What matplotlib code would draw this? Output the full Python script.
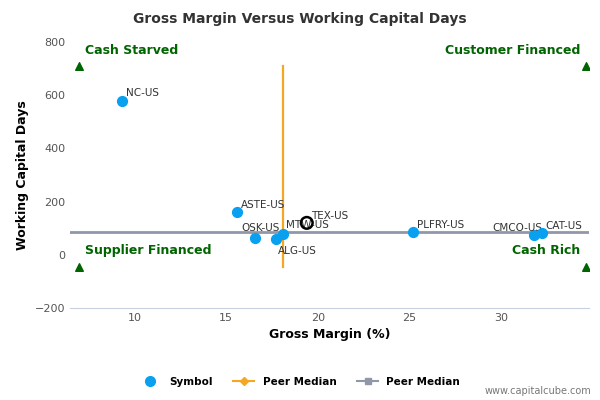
import matplotlib.pyplot as plt
from matplotlib.lines import Line2D

names = ["NC-US", "ASTE-US", "OSK-US", "ALG-US", "MTW-US", "TEX-US", "PLFRY-US", "CMCO-US", "CAT-US"]
margin = [9.3, 15.6, 16.6, 17.7, 18.1, 19.4, 25.2, 31.8, 32.2]
wc_days = [580, 160, 65, 60, 80, 120, 85, 75, 82]
highlight = "TEX-US"
median_x = 18.1
median_y = 85
corners = [("Cash Starved", 7.0, 710), ("Customer Financed", 34.6, 710),
           ("Supplier Financed", 7.0, -45), ("Cash Rich", 34.6, -45)]

fig = plt.figure(figsize=(6, 4), dpi=100)
ax = fig.add_axes([0.117, 0.23, 0.865, 0.665])
blue = "#0aa0f0"
green = "#006400"

ax.axhline(median_y, color="#9097a8", lw=2, zorder=1)
ax.plot([median_x, median_x], [-45, 710], color="#f5a623", lw=1.6, zorder=2)

offsets = {"CMCO-US": (-30, 3), "ALG-US": (2, -11), "OSK-US": (-10, 5), "MTW-US": (2, 4)}
for n, x, y in zip(names, margin, wc_days):
    if n == highlight:
        ax.scatter(x, y, s=70, facecolor="none", edgecolor="black", lw=1.8, zorder=4)
    else:
        ax.scatter(x, y, s=50, color=blue, zorder=3)
    ax.annotate(n, (x, y), xytext=offsets.get(n, (3, 3)), textcoords="offset points",
                fontsize=7.5, color="#333333")

for label, x, y in corners:
    ax.scatter(x, y, marker="^", s=30, color=green, zorder=3)
    left = x < 20
    ax.text(x + (0.3 if left else -0.3), y + 35, label, color=green, fontsize=9, fontweight="bold",
            ha="left" if left else "right", va="bottom")

ax.set_xlim(6.5, 34.8)
ax.set_ylim(-200, 800)
ax.set_xticks([10, 15, 20, 25, 30])
ax.set_yticks([-200, 0, 200, 400, 600, 800])
ax.tick_params(labelsize=8, colors="#555555", length=0)
for s in ["top", "right", "left"]:
    ax.spines[s].set_visible(False)
ax.spines["bottom"].set_color("#c8d0e0")
ax.set_xlabel("Gross Margin (%)", fontsize=9, fontweight="bold")
ax.set_ylabel("Working Capital Days", fontsize=9, fontweight="bold")
fig.suptitle("Gross Margin Versus Working Capital Days", fontsize=10, fontweight="bold", color="#333333", y=0.97)

handles = [Line2D([], [], marker="o", ls="none", color=blue, markersize=7),
           Line2D([], [], marker="D", color="#f5a623", markersize=4, lw=1.5),
           Line2D([], [], marker="s", color="#9097a8", markersize=5, lw=1.5)]
fig.legend(handles, ["Symbol", "Peer Median", "Peer Median"], loc="lower center", ncol=3,
           frameon=False, bbox_to_anchor=(0.5, 0.01), prop={"weight": "bold", "size": 7.5})
fig.text(0.985, 0.01, "www.capitalcube.com", ha="right", va="bottom", fontsize=7, color="#777777")
fig.savefig("out.png")
